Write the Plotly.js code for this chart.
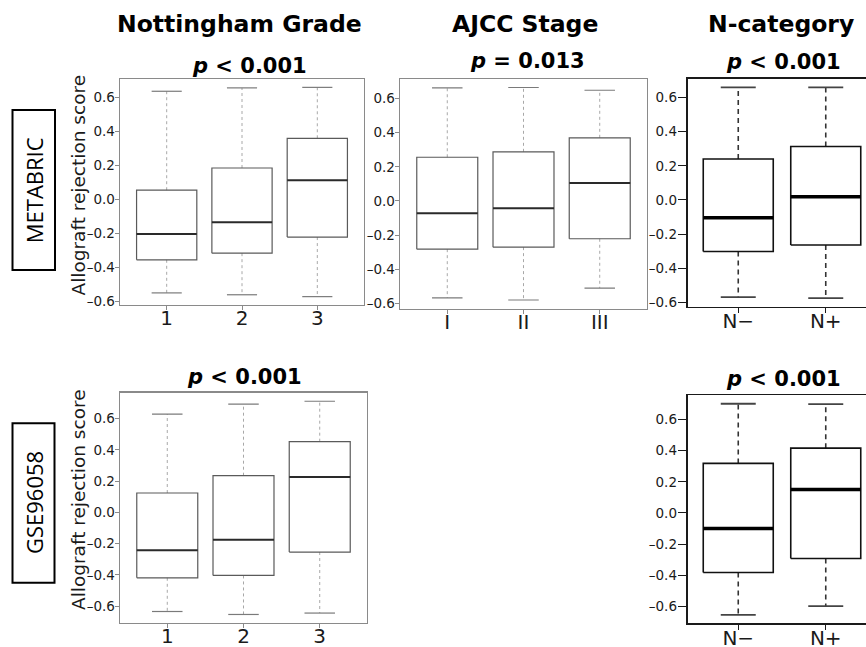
<!DOCTYPE html>
<html>
<head>
<meta charset="utf-8">
<script src="https://cdn.plot.ly/plotly-3.0.1.min.js"></script>
<style>html,body{margin:0;padding:0;background:#fff;}#chart{width:866px;height:647px;}</style>
</head>
<body>
<div id="chart"></div>
<script>
// ---------------- DATA ----------------
const columnTitles = ['Nottingham Grade', 'AJCC Stage', 'N-category'];
const rowLabels = ['METABRIC', 'GSE96058'];
const yTitle = 'Allograft rejection score';

const gradeCats = ['1', '2', '3'];
const stageCats = ['I', 'II', 'III'];
const nodeCats = ['N\u2212', 'N+'];

// METABRIC – Nottingham grade
const metaGradeLow  = [-0.551, -0.562, -0.573];
const metaGradeQ1   = [-0.356, -0.317, -0.222];
const metaGradeMed  = [-0.204, -0.135,  0.113];
const metaGradeQ3   = [ 0.054,  0.185,  0.360];
const metaGradeHigh = [ 0.637,  0.657,  0.660];

// METABRIC – AJCC stage
const metaStageLow  = [-0.569, -0.581, -0.511];
const metaStageQ1   = [-0.283, -0.271, -0.222];
const metaStageMed  = [-0.072, -0.043,  0.105];
const metaStageQ3   = [ 0.256,  0.288,  0.370];
const metaStageHigh = [ 0.663,  0.665,  0.649];

// METABRIC – N-category
const metaNodeLow  = [-0.570, -0.575];
const metaNodeQ1   = [-0.302, -0.264];
const metaNodeMed  = [-0.104,  0.018];
const metaNodeQ3   = [ 0.240,  0.313];
const metaNodeHigh = [ 0.659,  0.659];

// GSE96058 – Nottingham grade
const gseGradeLow  = [-0.635, -0.654, -0.645];
const gseGradeQ1   = [-0.419, -0.404, -0.254];
const gseGradeMed  = [-0.242, -0.175,  0.226];
const gseGradeQ3   = [ 0.124,  0.235,  0.453];
const gseGradeHigh = [ 0.630,  0.694,  0.712];

// GSE96058 – N-category
const gseNodeLow  = [-0.654, -0.598];
const gseNodeQ1   = [-0.382, -0.292];
const gseNodeMed  = [-0.100,  0.151];
const gseNodeQ3   = [ 0.318,  0.416];
const gseNodeHigh = [ 0.701,  0.698];

// p-values
const pSigns  = ['<', '=', '<', '<', '<'];
const pValues = ['0.001', '0.013', '0.001', '0.001', '0.001'];

const yTickVals = [-0.6, -0.4, -0.2, 0.0, 0.2, 0.4, 0.6];
const yTickText = yTickVals.map(v => v.toFixed(1).replace('-', '\u2013'));

// ---------------- STYLES ----------------
const W = 866, H = 647;
const FONT = 'DejaVu Sans, sans-serif';
const px = x => x / W;
const py = y => 1 - y / H;

const greyStyle = {
  frame: '#8a8a8a', frameW: 1.4, tick: '#8a8a8a', yticklen: 4, xticklen: 4, yStand: -3,
  box: '#5a5a5a', boxW: 1.2, med: '#2a2a2a', medW: 2,
  whisk: '#a8a8a8', whiskW: 1, whiskDash: 'dot', cap: '#7a7a7a', capW: 1.2
};
const blackStyle = {
  frame: '#1a1a1a', frameW: 1.8, tick: '#1a1a1a', yticklen: 8, xticklen: 5, yStand: -2,
  box: '#111', boxW: 1.6, med: '#000', medW: 3.5,
  whisk: '#333', whiskW: 1.6, whiskDash: '5px,4px', cap: '#444', capW: 1.8
};

const traces = [];
const layout = {
  width: W, height: H, autosize: false,
  margin: {l: 0, r: 0, t: 0, b: 0},
  paper_bgcolor: '#fff', plot_bgcolor: '#fff',
  showlegend: false, hovermode: false,
  annotations: [], shapes: []
};

function panel(idx, cats, low, q1, med, q3, high, st, xDom, yDom, fullRight) {
  const sfx = idx === 1 ? '' : String(idx);
  const xa = 'x' + sfx, ya = 'y' + sfx;
  const n = cats.length;
  const bw = 0.4, cw = 0.2;
  const rx = [], ry = [], mx = [], my = [], wx = [], wy = [], cx = [], cy = [];
  for (let i = 0; i < n; i++) {
    const c = i + 1;
    rx.push(c - bw, c + bw, c + bw, c - bw, c - bw, null);
    ry.push(q1[i], q1[i], q3[i], q3[i], q1[i], null);
    mx.push(c - bw, c + bw, null); my.push(med[i], med[i], null);
    wx.push(c, c, null, c, c, null); wy.push(q3[i], high[i], null, q1[i], low[i], null);
    cx.push(c - cw, c + cw, null, c - cw, c + cw, null);
    cy.push(high[i], high[i], null, low[i], low[i], null);
  }
  const common = {type: 'scatter', mode: 'lines', xaxis: xa, yaxis: ya, hoverinfo: 'skip', connectgaps: false};
  traces.push(Object.assign({}, common, {x: wx, y: wy, line: {color: st.whisk, width: st.whiskW, dash: st.whiskDash}}));
  traces.push(Object.assign({}, common, {x: cx, y: cy, line: {color: st.cap, width: st.capW}}));
  traces.push(Object.assign({}, common, {x: rx, y: ry, line: {color: st.box, width: st.boxW}}));
  traces.push(Object.assign({}, common, {x: mx, y: my, line: {color: st.med, width: st.medW}}));

  const lo = Math.min(...low), hi = Math.max(...high);
  const pad = (hi - lo) * 0.04;
  const xpad = n * 0.04;
  let xr = [0.5 - xpad, n + 0.5 + xpad];
  let dom0 = px(xDom[0]), dom1 = px(xDom[1]);
  if (fullRight) { // panel cut by the image's right edge
    const full = fullRight - xDom[0];
    xr = [xr[0], xr[0] + (xr[1] - xr[0]) * (W - xDom[0]) / full];
    dom1 = 1;
  }
  layout['xaxis' + sfx] = {
    domain: [dom0, dom1], anchor: ya, range: xr, fixedrange: true,
    tickmode: 'array', tickvals: cats.map((_, i) => i + 1), ticktext: cats,
    ticks: 'outside', ticklen: st.xticklen, tickcolor: st.tick, tickwidth: 1,
    ticklabelstandoff: -9,
    showline: true, linecolor: st.frame, linewidth: st.frameW, mirror: true,
    showgrid: false, zeroline: false,
    tickfont: {family: FONT, size: 20, color: '#1a1a1a'}
  };
  layout['yaxis' + sfx] = {
    domain: [py(yDom[1]), py(yDom[0])], anchor: xa, range: [lo - pad, hi + pad], fixedrange: true,
    tickmode: 'array', tickvals: yTickVals, ticktext: yTickText,
    ticks: 'outside', ticklen: st.yticklen, tickcolor: st.tick, tickwidth: 1,
    ticklabelstandoff: st.yStand,
    showline: true, linecolor: st.frame, linewidth: st.frameW, mirror: !fullRight,
    showgrid: false, zeroline: false,
    tickfont: {family: FONT, size: 13.5, color: '#1a1a1a'}
  };
}

panel(1, gradeCats, metaGradeLow, metaGradeQ1, metaGradeMed, metaGradeQ3, metaGradeHigh, greyStyle, [120, 364], [79, 305], null);
panel(2, stageCats, metaStageLow, metaStageQ1, metaStageMed, metaStageQ3, metaStageHigh, greyStyle, [400, 647], [79, 308.5], null);
panel(3, nodeCats, metaNodeLow, metaNodeQ1, metaNodeMed, metaNodeQ3, metaNodeHigh, blackStyle, [687.5, 866], [79, 306.5], 876.5);
panel(4, gradeCats, gseGradeLow, gseGradeQ1, gseGradeMed, gseGradeQ3, gseGradeHigh, greyStyle, [120, 367], [392.7, 623], null);
panel(5, nodeCats, gseNodeLow, gseNodeQ1, gseNodeMed, gseNodeQ3, gseNodeHigh, blackStyle, [687.5, 866], [395.3, 623.3], 876.5);

// Column titles
const titleX = [240, 525, 781];
columnTitles.forEach((t, i) => {
  layout.annotations.push({
    xref: 'paper', yref: 'paper', x: px(titleX[i]), y: py(24), xanchor: 'center', yanchor: 'middle',
    text: '<b>' + t + '</b>', showarrow: false, font: {family: FONT, size: 23.5, color: '#000'}
  });
});

// p-value labels
const pPos = [[250, 66], [527, 61], [783, 62], [244, 377], [783, 379]];
pPos.forEach((p, i) => {
  layout.annotations.push({
    xref: 'paper', yref: 'paper', x: px(p[0]), y: py(p[1]), xanchor: 'center', yanchor: 'middle',
    text: '<b><i>p</i> ' + (pSigns[i] === '<' ? '&lt;' : '=') + ' ' + pValues[i] + '</b>',
    showarrow: false, font: {family: FONT, size: 21, color: '#000'}
  });
});

// Y-axis titles
[185.5, 500].forEach(yc => {
  layout.annotations.push({
    xref: 'paper', yref: 'paper', x: px(78), y: py(yc), xanchor: 'center', yanchor: 'middle',
    text: yTitle, textangle: -90, showarrow: false, font: {family: FONT, size: 18.5, color: '#1a1a1a'}
  });
});

// Row label boxes
const rowBoxes = [[12.5, 110, 55, 270], [12.5, 423.3, 54.5, 582.7]];
rowLabels.forEach((lab, i) => {
  const b = rowBoxes[i];
  layout.shapes.push({
    type: 'rect', xref: 'paper', yref: 'paper', x0: px(b[0]), x1: px(b[2]), y0: py(b[3]), y1: py(b[1]),
    line: {color: '#000', width: 2}, fillcolor: 'rgba(0,0,0,0)'
  });
  layout.annotations.push({
    xref: 'paper', yref: 'paper', x: px((b[0] + b[2]) / 2 + 0.5), y: py((b[1] + b[3]) / 2), xanchor: 'center', yanchor: 'middle',
    text: lab, textangle: -90, showarrow: false, font: {family: 'Open Sans, sans-serif', size: 22, color: '#000'}
  });
});

Plotly.newPlot('chart', traces, layout, {staticPlot: true, displayModeBar: false});
</script>
</body>
</html>
